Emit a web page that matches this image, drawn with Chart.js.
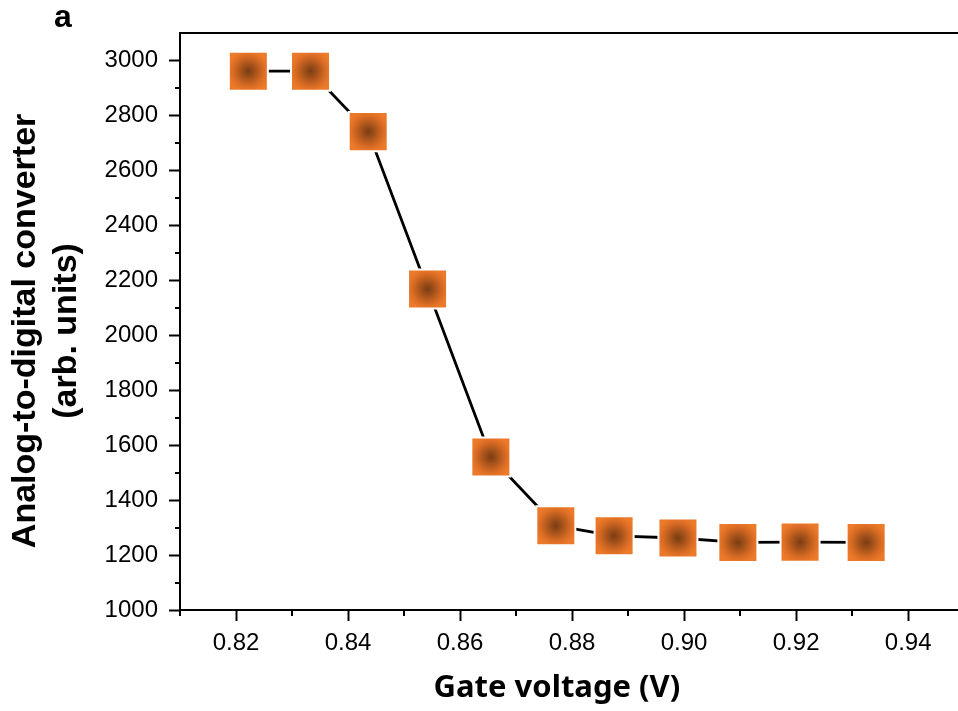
<!DOCTYPE html>
<html>
<head>
<meta charset="utf-8">
<script src="https://cdn.jsdelivr.net/npm/chart.js@4.4.1/dist/chart.umd.min.js"></script>
<style>
  html, body { margin: 0; padding: 0; background: #fff; }
  #wrap { width: 958px; height: 711px; position: relative; }
</style>
</head>
<body>
<div id="wrap"><canvas id="adcChart"></canvas></div>
<script>
// gate voltage (V) and ADC reading
const gateVoltage = [0.8222, 0.8333, 0.8436, 0.8542, 0.8655, 0.8771, 0.8875, 0.8989, 0.9096, 0.9207, 0.9325];
const adcValue = [2961, 2961, 2741, 2168, 1557, 1307, 1270, 1262, 1246, 1247, 1246];

const xMajorTicks = [0.82, 0.84, 0.86, 0.88, 0.90, 0.92, 0.94];
const xMinorTicks = [0.81, 0.83, 0.85, 0.87, 0.89, 0.91, 0.93];
const yMajorTicks = [1000, 1200, 1400, 1600, 1800, 2000, 2200, 2400, 2600, 2800, 3000];
const yMinorTicks = [1100, 1300, 1500, 1700, 1900, 2100, 2300, 2500, 2700, 2900];

const isMajor = (list, v) => list.some((m) => Math.abs(m - v) < 1e-6);

// minor ticks, top frame line and the panel letter
const frameDecor = {
  id: "frameDecor",
  afterDraw(chart) {
    const ctx = chart.ctx;
    const area = chart.chartArea;
    const xs = chart.scales.x;
    const ys = chart.scales.y;
    ctx.save();
    ctx.strokeStyle = "#000";
    ctx.lineWidth = 2;
    xMinorTicks.forEach((v) => {
      const px = Math.round(xs.getPixelForValue(v));
      ctx.beginPath();
      ctx.moveTo(px, area.bottom);
      ctx.lineTo(px, area.bottom + 6);
      ctx.stroke();
    });
    yMinorTicks.forEach((v) => {
      const py = Math.round(ys.getPixelForValue(v));
      ctx.beginPath();
      ctx.moveTo(area.left, py);
      ctx.lineTo(area.left - 5, py);
      ctx.stroke();
    });
    ctx.beginPath();
    ctx.lineWidth = 1.8;
    ctx.moveTo(area.left, area.top);
    ctx.lineTo(chart.width, area.top);
    ctx.stroke();
    ctx.fillStyle = "#000";
    ctx.font = "bold 32px 'Liberation Sans', Arial, sans-serif";
    ctx.textBaseline = "alphabetic";
    ctx.fillText("a", 54, 27);
    ctx.restore();
  },
};

const canvas = document.getElementById("adcChart");
new Chart(canvas.getContext("2d"), {
  type: "scatter",
  data: {
    datasets: [
      {
        data: gateVoltage.map((v, i) => ({ x: v, y: adcValue[i] })),
        showLine: true,
        borderColor: "#000",
        borderWidth: 2.8,
        tension: 0,
        pointStyle: "rect",
        pointRadius: 27.6,
        pointBorderColor: "#fff",
        pointBorderWidth: 2,
        pointBackgroundColor: (c) => {
          const chart = c.chart;
          if (c.type !== "data" || !chart.chartArea) return "#ec7a2a";
          const px = chart.scales.x.getPixelForValue(c.parsed.x);
          const py = chart.scales.y.getPixelForValue(c.parsed.y);
          const g = chart.ctx.createRadialGradient(px, py, 0, px, py, 21);
          g.addColorStop(0, "#7a3c13");
          g.addColorStop(0.35, "#a7531b");
          g.addColorStop(0.75, "#dc6d24");
          g.addColorStop(1, "#ec7a2a");
          return g;
        },
      },
    ],
  },
  options: {
    responsive: true,
    maintainAspectRatio: false,
    animation: false,
    events: [],
    layout: { autoPadding: false, padding: { top: 33, left: 0, right: 0, bottom: 0 } },
    plugins: {
      legend: { display: false },
      tooltip: { enabled: false },
    },
    scales: {
      x: {
        type: "linear",
        min: 0.81,
        max: 0.9489,
        afterBuildTicks: (s) => {
          s.ticks = [...xMajorTicks, ...xMinorTicks].sort((a, b) => a - b).map((v) => ({ value: v }));
        },
        afterFit: (s) => {
          s.height = 101;
          s.paddingLeft = 0;
          s.paddingRight = 0;
        },
        border: { display: true, color: "#000", width: 2 },
        grid: {
          drawOnChartArea: false,
          drawTicks: true,
          tickLength: 11,
          tickWidth: 2,
          tickColor: (c) => (c.tick && isMajor(xMajorTicks, c.tick.value) ? "#000" : "rgba(0,0,0,0)"),
        },
        ticks: {
          color: "#000",
          padding: 8,
          maxRotation: 0,
          autoSkip: false,
          font: { family: "'Liberation Sans', Arial, sans-serif", size: 24 },
          callback: (v) => (isMajor(xMajorTicks, v) ? v.toFixed(2) : ""),
        },
        title: {
          display: true,
          text: "Gate voltage (V)\u00A0\u00A0\u00A0",
          color: "#000",
          padding: { top: 0, bottom: 4 },
          font: { family: "'Noto Sans', sans-serif", size: 31, weight: "bold" },
        },
      },
      y: {
        type: "linear",
        min: 1000,
        max: 3100,
        afterBuildTicks: (s) => {
          s.ticks = [...yMajorTicks, ...yMinorTicks].sort((a, b) => a - b).map((v) => ({ value: v }));
        },
        afterFit: (s) => { s.width = 180; },
        border: { display: true, color: "#000", width: 2 },
        grid: {
          drawOnChartArea: false,
          drawTicks: true,
          tickLength: 11,
          tickWidth: 2,
          tickColor: (c) => (c.tick && isMajor(yMajorTicks, c.tick.value) ? "#000" : "rgba(0,0,0,0)"),
        },
        ticks: {
          color: "#000",
          padding: 11,
          autoSkip: false,
          font: { family: "'Liberation Sans', Arial, sans-serif", size: 24 },
          callback: (v) => (isMajor(yMajorTicks, v) ? String(v) : ""),
        },
        title: {
          display: true,
          text: ["Analog-to-digital converter\u00A0\u00A0", "(arb. units)\u00A0\u00A0"],
          color: "#000",
          padding: { top: 5, bottom: 0 },
          font: { family: "'Liberation Sans', Arial, sans-serif", size: 34, weight: "bold", lineHeight: 1.2 },
        },
      },
    },
  },
  plugins: [frameDecor],
});
</script>
</body>
</html>
